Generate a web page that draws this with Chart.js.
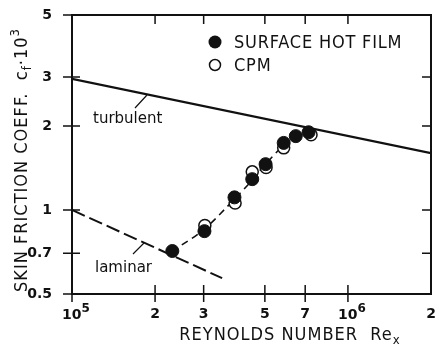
<!DOCTYPE html>
<html>
<head>
<meta charset="utf-8">
<script src="https://cdn.jsdelivr.net/npm/chart.js@4"></script>
<style>
  html, body { margin: 0; padding: 0; background: #fff; }
  #wrap { width: 435px; height: 345px; }
</style>
</head>
<body>
<div id="wrap"><canvas id="cfChart" width="435" height="345"></canvas></div>
<script>
// Skin friction coefficient through transition: hot film and CPM measurements
const hotFilmRe = [2.31e5, 3.02e5, 3.88e5, 4.5e5, 5.03e5, 5.85e5, 6.47e5, 7.2e5];
const hotFilmCf = [0.713, 0.84, 1.11, 1.29, 1.46, 1.74, 1.84, 1.90];
const cpmRe = [3.03e5, 3.9e5, 4.5e5, 5.05e5, 5.85e5, 7.35e5];
const cpmCf = [0.88, 1.06, 1.37, 1.42, 1.67, 1.86];

// reference laws
const turbRe = [1e5, 2e6];
const turbCf = [2.95, 1.6];
const lamRe = [1e5, 3.5e5];
const lamCf = [1.0, 0.57];

// dashed transition curve through the data
const fitRe = [2.3e5, 3.0e5, 3.9e5, 4.5e5, 5.0e5, 5.9e5, 6.6e5, 7.6e5];
const fitCf = [0.71, 0.85, 1.1, 1.28, 1.45, 1.72, 1.84, 1.94];

const xTicks = [1e5, 2e5, 3e5, 5e5, 7e5, 1e6, 2e6];
const xTickLabels = ['10^5', '2', '3', '5', '7', '10^6', '2'];
const yTicks = [0.5, 0.7, 1, 2, 3, 5];
const yTickLabels = ['0.5', '0.7', '1', '2', '3', '5'];

const INK = '#111';
const FONT = 'DejaVu Sans';
const CAPS = "'DejaVu Sans Condensed', 'DejaVu Sans'";

const pts = (xs, ys) => xs.map((x, i) => ({ x: x, y: ys[i] }));

// draw a run of text pieces (normal / sub / sup) centred on x
function drawParts(ctx, parts, x, y) {
  let total = 0;
  parts.forEach(p => {
    ctx.font = p.font;
    p.w = ctx.measureText(p.t).width;
    total += p.w;
  });
  let cx = x - total / 2;
  parts.forEach(p => {
    ctx.font = p.font;
    ctx.fillText(p.t, cx, y + (p.dy || 0));
    cx += p.w;
  });
}

const decor = {
  id: 'decor',
  afterDraw(chart) {
    const ctx = chart.ctx;
    const a = chart.chartArea;
    const xs = chart.scales.x, ys = chart.scales.y;
    ctx.save();
    ctx.strokeStyle = INK;
    ctx.fillStyle = INK;

    // frame
    ctx.lineWidth = 2;
    ctx.strokeRect(a.left, a.top, a.right - a.left, a.bottom - a.top);

    // tick marks: crossing on bottom/left, inward on top/right
    ctx.lineWidth = 1.5;
    ctx.beginPath();
    xTicks.slice(1, -1).forEach(v => {
      const px = xs.getPixelForValue(v);
      ctx.moveTo(px, a.bottom + 8); ctx.lineTo(px, a.bottom - 9);
      ctx.moveTo(px, a.top); ctx.lineTo(px, a.top + 9);
    });
    yTicks.slice(1, -1).forEach(v => {
      const py = ys.getPixelForValue(v);
      ctx.moveTo(a.left - 9, py); ctx.lineTo(a.left + 8, py);
      ctx.moveTo(a.right, py); ctx.lineTo(a.right - 9, py);
    });
    [a.bottom, a.top].forEach(py => { ctx.moveTo(a.left - 9, py); ctx.lineTo(a.left, py); });
    ctx.moveTo(a.left, a.bottom); ctx.lineTo(a.left, a.bottom + 8);
    ctx.stroke();

    // powers of ten on the x axis, with a real superscript
    ctx.textBaseline = 'alphabetic';
    xTicks.forEach((v, i) => {
      const lab = xTickLabels[i];
      if (lab.indexOf('^') < 0) return;
      const [base, pow] = lab.split('^');
      drawParts(ctx, [
        { t: base, font: 'bold 14px ' + FONT },
        { t: pow, font: 'bold 12px ' + FONT, dy: -7 }
      ], xs.getPixelForValue(v) + 4, 319);
    });

    // curve labels with leader lines
    ctx.lineWidth = 1.2;
    ctx.beginPath();
    ctx.moveTo(135, 108); ctx.lineTo(147, 95);
    ctx.moveTo(133, 254); ctx.lineTo(144, 243);
    ctx.stroke();
    ctx.textBaseline = 'middle';
    ctx.textAlign = 'left';
    ctx.font = '15px ' + FONT;
    ctx.fillText('turbulent', 93, 119);
    ctx.fillText('laminar', 95, 268);

    // legend
    ctx.letterSpacing = '0.8px';
    ctx.font = '18px ' + CAPS;
    ctx.beginPath();
    ctx.arc(215, 42, 6.5, 0, Math.PI * 2);
    ctx.fill();
    ctx.fillText('SURFACE HOT FILM', 234, 43);
    ctx.beginPath();
    ctx.arc(215, 65, 5.5, 0, Math.PI * 2);
    ctx.lineWidth = 1.5;
    ctx.stroke();
    ctx.fillText('CPM', 234, 66);

    // axis titles
    ctx.letterSpacing = '1px';
    ctx.textAlign = 'left';
    ctx.textBaseline = 'alphabetic';
    const big = '18px ' + CAPS, small = '13px ' + CAPS;
    drawParts(ctx, [
      { t: 'REYNOLDS NUMBER  Re', font: big },
      { t: 'x', font: small, dy: 4 }
    ], 290, 340);

    ctx.translate(27, 160);
    ctx.rotate(-Math.PI / 2);
    drawParts(ctx, [
      { t: 'SKIN FRICTION COEFF.  c', font: big },
      { t: 'f', font: small, dy: 4 },
      { t: '·10', font: big },
      { t: '3', font: small, dy: -8 }
    ], 0, 0);
    ctx.restore();
  }
};

const ctx = document.getElementById('cfChart').getContext('2d');
new Chart(ctx, {
  type: 'line',
  data: {
    datasets: [
      {
        label: 'SURFACE HOT FILM',
        data: pts(hotFilmRe, hotFilmCf),
        showLine: false,
        pointRadius: 6.5,
        pointBackgroundColor: INK,
        pointBorderColor: INK,
        pointBorderWidth: 1,
        order: 0
      },
      {
        label: 'CPM',
        data: pts(cpmRe, cpmCf),
        showLine: false,
        pointRadius: 6,
        pointBackgroundColor: '#fff',
        pointBorderColor: INK,
        pointBorderWidth: 1.5,
        order: 1
      },
      {
        label: 'transition',
        data: pts(fitRe, fitCf),
        borderColor: INK,
        borderWidth: 1.6,
        borderDash: [7, 5],
        tension: 0.3,
        pointRadius: 0,
        order: 2
      },
      {
        label: 'turbulent',
        data: pts(turbRe, turbCf),
        borderColor: INK,
        borderWidth: 2.2,
        pointRadius: 0,
        order: 3
      },
      {
        label: 'laminar',
        data: pts(lamRe, lamCf),
        borderColor: INK,
        borderWidth: 2,
        borderDash: [14, 5],
        pointRadius: 0,
        order: 4
      }
    ]
  },
  options: {
    responsive: false,
    animation: false,
    layout: { autoPadding: false, padding: { top: 15, right: 4, left: 0, bottom: 0 } },
    plugins: {
      legend: { display: false },
      tooltip: { enabled: false }
    },
    scales: {
      x: {
        type: 'logarithmic',
        min: 1e5,
        max: 2e6,
        afterBuildTicks: s => { s.ticks = xTicks.map(v => ({ value: v })); },
        afterFit: s => { s.height = 51; s.paddingLeft = 0; s.paddingRight = 0; },
        grid: { display: false },
        border: { display: false },
        ticks: {
          autoSkip: false,
          maxRotation: 0,
          padding: 4,
          color: INK,
          font: { family: FONT, size: 14, weight: 'bold' },
          // powers of ten are drawn by the decor plugin
          callback: (v, i) => (xTickLabels[i].indexOf('^') < 0 ? xTickLabels[i] : '')
        }
      },
      y: {
        type: 'logarithmic',
        min: 0.5,
        max: 5,
        afterBuildTicks: s => { s.ticks = yTicks.map(v => ({ value: v })); },
        afterFit: s => { s.width = 72; s.paddingTop = 0; s.paddingBottom = 0; },
        grid: { display: false },
        border: { display: false },
        ticks: {
          autoSkip: false,
          padding: 12,
          color: INK,
          font: { family: FONT, size: 14, weight: 'bold' },
          callback: (v, i) => yTickLabels[i]
        }
      }
    }
  },
  plugins: [decor]
});
</script>
</body>
</html>
